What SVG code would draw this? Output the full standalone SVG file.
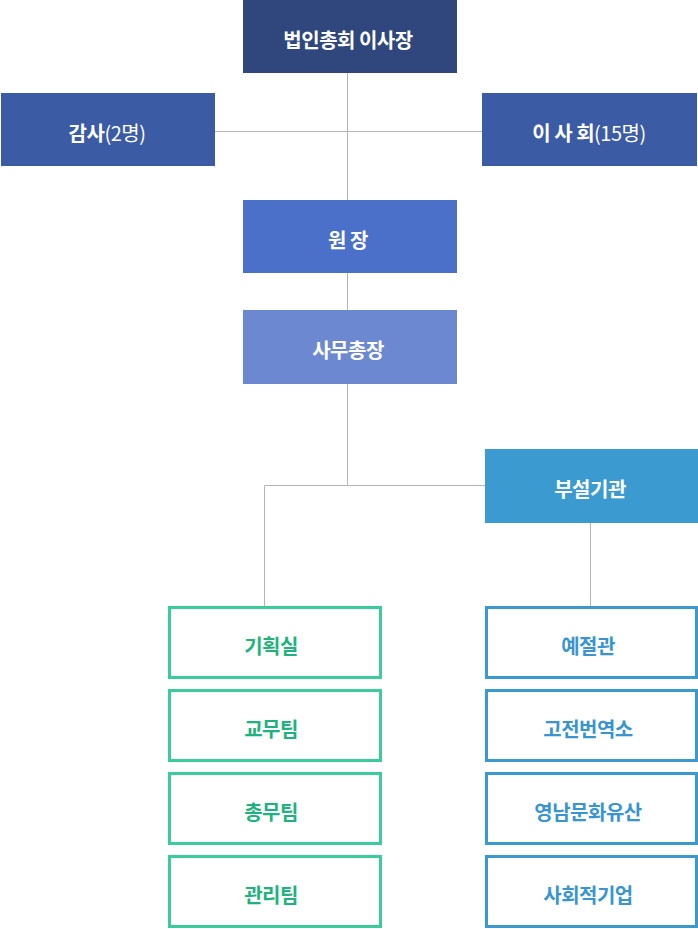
<svg xmlns="http://www.w3.org/2000/svg" width="698" height="929" viewBox="0 0 698 929">
<style>
.t{font-family:"Noto Sans CJK KR","Noto Sans",sans-serif;font-size:20px;text-anchor:middle;dominant-baseline:central;letter-spacing:-0.5px}
.w{fill:#ffffff;font-weight:700}
.g{fill:#1fb27e;font-weight:700}
.b{fill:#3a94cd;font-weight:700}
.r{font-weight:400}
.gb{fill:#ffffff;stroke:#3ccc9c;stroke-width:3}
.bb{fill:#ffffff;stroke:#3b99d0;stroke-width:3}
.c{stroke:#b4b4b4;stroke-width:1;fill:none}
</style>
<g id="connectors">
<path class="c" d="M347.5 73V200M215 131.5H482M347.5 273V310M347.5 384V485.5M264.5 485.5H485M264.5 485.5V606M590.5 523V606"/>
</g>
<g id="n-chair"><rect x="243" y="0" width="214" height="73" fill="#2f477d"/><text class="t w" x="348" y="39">법인총회 이사장</text></g>
<g id="n-audit"><rect x="1" y="93" width="214" height="73" fill="#3c5ba5"/><text class="t w" x="107" y="132">감사<tspan class="r">(2명)</tspan></text></g>
<g id="n-board"><rect x="482" y="93" width="215" height="73" fill="#3c5ba5"/><text class="t w" x="589" y="132">이 사 회<tspan class="r">(15명)</tspan></text></g>
<g id="n-director"><rect x="243" y="200" width="214" height="73" fill="#4a70c9"/><text class="t w" x="348" y="239">원 장</text></g>
<g id="n-secretary"><rect x="243" y="310" width="214" height="74" fill="#6b88d0"/><text class="t w" x="348" y="349">사무총장</text></g>
<g id="n-affiliate"><rect x="485" y="449" width="213" height="74" fill="#3b9ad0"/><text class="t w" x="590" y="488">부설기관</text></g>
<g id="n-plan"><rect class="gb" x="169.5" y="607.5" width="211" height="70"/><text class="t g" x="271" y="645">기획실</text></g>
<g id="n-edu"><rect class="gb" x="169.5" y="690.5" width="211" height="70"/><text class="t g" x="271" y="728">교무팀</text></g>
<g id="n-general"><rect class="gb" x="169.5" y="773.5" width="211" height="70"/><text class="t g" x="271" y="811">총무팀</text></g>
<g id="n-manage"><rect class="gb" x="169.5" y="856.5" width="211" height="70"/><text class="t g" x="271" y="894">관리팀</text></g>
<g id="n-etiquette"><rect class="bb" x="486.5" y="607.5" width="210" height="70"/><text class="t b" x="588" y="645">예절관</text></g>
<g id="n-classics"><rect class="bb" x="486.5" y="690.5" width="210" height="70"/><text class="t b" x="588" y="728">고전번역소</text></g>
<g id="n-heritage"><rect class="bb" x="486.5" y="773.5" width="210" height="70"/><text class="t b" x="588" y="811">영남문화유산</text></g>
<g id="n-social"><rect class="bb" x="486.5" y="856.5" width="210" height="70"/><text class="t b" x="588" y="894">사회적기업</text></g>
</svg>
